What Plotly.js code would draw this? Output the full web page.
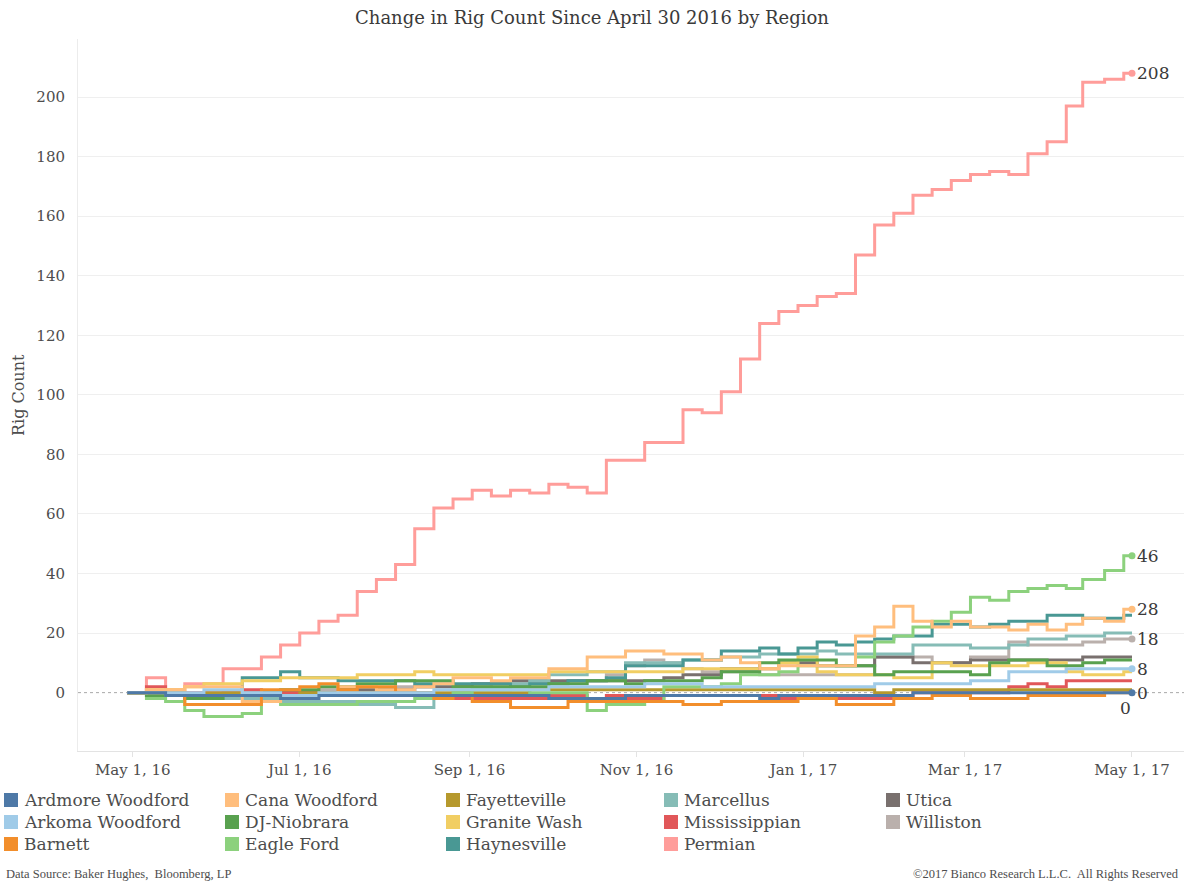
<!DOCTYPE html>
<html>
<head>
<meta charset="utf-8">
<script src="https://cdn.plot.ly/plotly-3.0.1.min.js"></script>
<style>
  html, body { margin: 0; padding: 0; background: #ffffff; }
  #chart { width: 1184px; height: 884px; }
</style>
</head>
<body>
<div id="chart"></div>
<script>
// ---------- DATA ----------
const dates = ['2016-04-29','2016-05-06','2016-05-13','2016-05-20','2016-05-27','2016-06-03','2016-06-10','2016-06-17','2016-06-24',
  '2016-07-01','2016-07-08','2016-07-15','2016-07-22','2016-07-29','2016-08-05','2016-08-12','2016-08-19','2016-08-26',
  '2016-09-02','2016-09-09','2016-09-16','2016-09-23','2016-09-30','2016-10-07','2016-10-14','2016-10-21','2016-10-28',
  '2016-11-04','2016-11-11','2016-11-18','2016-11-25','2016-12-02','2016-12-09','2016-12-16','2016-12-23','2016-12-30',
  '2017-01-06','2017-01-13','2017-01-20','2017-01-27','2017-02-03','2017-02-10','2017-02-17','2017-02-24',
  '2017-03-03','2017-03-10','2017-03-17','2017-03-24','2017-03-31','2017-04-07','2017-04-13','2017-04-21','2017-04-28'];
const asOfDate = '2017-05-01';

const seriesNames = ['Ardmore Woodford','Arkoma Woodford','Barnett','Cana Woodford','DJ-Niobrara','Eagle Ford',
  'Fayetteville','Granite Wash','Haynesville','Marcellus','Mississippian','Permian','Utica','Williston'];
const seriesColors = ['#4E79A7','#A0CBE8','#F28E2B','#FFBE7D','#59A14F','#8CD17D',
  '#B6992D','#F1CE63','#499894','#86BCB6','#E15759','#FF9D9A','#79706E','#BAB0AC'];

const ardmore      = [0,0,-1,-1,-1,-1,-1,-1,-2,-2,-1,-1,-1,-1,-1,-1,-1,-1,-1,-1,-1,-1,-2,-2,-2,-2,-1,-1,-1,-1,-1,-1,-1,-2,-1,-1,-1,-1,-1,-1,-1,0,0,0,0,0,0,0,0,0,0,0,0];
const arkoma       = [0,0,0,0,1,1,0,0,-1,-1,0,0,0,0,0,0,1,1,1,1,1,1,2,2,2,2,2,3,3,3,2,2,2,2,2,2,2,2,2,3,3,3,3,3,4,4,7,7,7,8,8,8,8];
const barnett      = [0,0,-1,-4,-4,-4,-4,1,1,2,3,1,2,2,-1,-1,-2,-1,-3,-3,-5,-5,-5,-3,-3,-3,-3,-3,-3,-4,-4,-3,-3,-3,-3,-2,-2,-4,-4,-4,-2,-2,-1,-1,-2,-2,-2,-1,-1,-1,-1,0,0];
const cana         = [0,1,1,2,2,2,-3,-3,-2,-2,-1,2,2,1,1,2,3,5,5,4,5,5,8,8,12,12,14,14,13,13,11,12,10,8,9,9,9,9,19,22,29,24,22,24,22,22,21,23,21,23,25,24,28];
const djNiobrara   = [0,-1,-1,-2,-2,-1,-1,0,1,1,2,2,3,3,4,4,4,2,2,2,2,2,3,3,4,4,3,4,4,4,5,7,7,10,11,11,11,9,9,6,7,7,7,7,6,10,11,11,9,9,10,11,11];
const eagleFord    = [0,-2,-3,-6,-8,-8,-7,-3,-4,-4,-4,-4,-3,-3,-3,-2,-1,0,1,1,1,0,0,0,-6,-4,-4,-3,2,2,2,3,6,6,7,9,9,9,12,17,19,22,24,27,32,31,34,35,36,35,38,41,46];
const fayetteville = [0,0,0,-1,0,0,-1,-1,-1,0,0,0,0,0,0,0,0,0,0,0,0,1,1,1,1,1,1,1,1,1,1,1,1,1,1,1,1,1,1,0,1,1,1,1,1,1,1,1,1,1,1,1,1];
const graniteWash  = [0,1,1,2,3,3,4,4,5,5,5,5,6,6,6,7,6,6,6,6,6,6,7,7,7,7,7,7,7,8,8,8,8,8,10,12,7,6,6,6,5,5,10,9,9,9,9,10,10,7,6,6,7];
const haynesville  = [0,0,-1,-1,-1,-1,5,5,7,5,5,4,4,4,4,3,3,3,3,3,2,3,3,4,4,5,9,9,9,11,11,14,14,15,13,15,17,16,17,18,19,19,23,23,22,23,24,24,26,26,25,25,26];
const marcellus    = [0,0,-1,-1,-1,-2,-2,-2,-3,-3,-3,-3,-4,-4,-5,-5,-1,0,1,1,3,4,6,6,7,7,10,10,10,11,11,12,12,13,13,13,14,13,13,13,13,16,16,16,15,15,16,18,18,19,19,20,20];
const mississippian= [0,2,0,0,0,0,1,0,0,0,0,0,0,0,0,0,-1,-2,-2,-2,-2,-2,-1,-1,-2,-1,-2,-2,-1,-1,-1,-1,-1,-1,-2,-2,-2,-2,-2,-2,-2,0,0,0,0,0,2,3,2,4,4,4,4];
const permian      = [0,5,1,3,3,8,8,12,16,20,24,26,34,38,43,55,62,65,68,66,68,67,70,69,67,78,78,84,84,95,94,101,112,124,128,130,133,134,147,157,161,167,169,172,174,175,174,181,185,197,205,206,208];
const utica        = [0,0,0,-1,-1,0,0,0,0,0,0,1,1,1,1,2,2,2,3,3,4,4,4,4,4,4,4,4,5,6,6,8,8,8,10,10,9,9,9,12,12,10,10,10,11,11,11,11,11,11,12,12,12];
const williston    = [0,0,-1,-2,-2,-2,-1,0,0,0,1,1,1,1,2,2,2,2,2,3,3,3,3,4,4,6,9,11,10,8,7,7,7,6,6,6,6,6,6,12,12,12,10,10,12,12,17,16,16,16,17,18,18];

const seriesValues = [ardmore, arkoma, barnett, cana, djNiobrara, eagleFord, fayetteville,
  graniteWash, haynesville, marcellus, mississippian, permian, utica, williston];

const labeledSeries = ['Permian','Eagle Ford','Cana Woodford','Williston','Arkoma Woodford','Ardmore Woodford','Barnett'];
const dottedSeries  = ['Permian','Eagle Ford','Cana Woodford','Williston','Arkoma Woodford','Ardmore Woodford'];

const xTickVals = ['2016-05-01','2016-07-01','2016-09-01','2016-11-01','2017-01-01','2017-03-01','2017-05-01'];
const xTickText = ['May 1, 16','Jul 1, 16','Sep 1, 16','Nov 1, 16','Jan 1, 17','Mar 1, 17','May 1, 17'];
const yTickVals = [0,20,40,60,80,100,120,140,160,180,200];

// ---------- LAYOUT HELPERS ----------
const PL = 78, PR = 1184, PT = 39, PB = 751;
const px2x = p => (p - PL) / (PR - PL);
const py2y = p => (PB - p) / (PB - PT);
const SERIF = 'DejaVu Serif, Georgia, serif';
const TXT = '#4d4d4d';

const traces = [];
for (let i = seriesNames.length - 1; i >= 0; i--) {
  const v = seriesValues[i];
  const last = v[v.length - 1];
  traces.push({
    type: 'scatter', mode: 'lines',
    x: dates.concat([asOfDate]), y: v.concat([last]),
    line: {shape: 'hv', width: 3, color: seriesColors[i]},
    hoverinfo: 'skip', showlegend: false, name: seriesNames[i]
  });
}
// end dots
dottedSeries.forEach(name => {
  const i = seriesNames.indexOf(name);
  const v = seriesValues[i];
  traces.push({
    type: 'scatter', mode: 'markers',
    x: [asOfDate], y: [v[v.length - 1]],
    marker: {size: 7, color: seriesColors[i]},
    hoverinfo: 'skip', showlegend: false
  });
});

const annotations = [];
const shapes = [];

// end labels
labeledSeries.forEach(name => {
  const i = seriesNames.indexOf(name);
  const v = seriesValues[i];
  const last = v[v.length - 1];
  const lower = (name === 'Barnett');
  annotations.push({
    x: asOfDate, y: last, xref: 'x', yref: 'y',
    text: String(last), showarrow: false,
    xanchor: lower ? 'center' : 'left', yanchor: 'middle',
    xshift: lower ? -6 : 3, yshift: lower ? -15 : 0,
    font: {family: SERIF, size: 17, color: '#3a3a3a'}
  });
});

// zero reference line (dotted)
shapes.push({type: 'line', xref: 'paper', x0: 0, x1: 1, yref: 'y', y0: 0, y1: 0,
  line: {color: '#a8a8a8', width: 1, dash: 'dot'}, layer: 'below'});

// manual legend (5 columns x 3 rows, column-major)
const legColSquareX = [4, 225, 446, 664, 886];
const legRowCenterY = [800, 822, 844];
seriesNames.forEach((name, i) => {
  const col = Math.floor(i / 3), row = i % 3;
  const sx = legColSquareX[col], cy = legRowCenterY[row];
  shapes.push({type: 'rect', xref: 'paper', yref: 'paper',
    x0: px2x(sx), x1: px2x(sx + 14), y0: py2y(cy + 7), y1: py2y(cy - 7),
    fillcolor: seriesColors[i], line: {width: 0}});
  annotations.push({xref: 'paper', yref: 'paper', x: px2x(sx + 18), y: py2y(cy),
    xanchor: 'left', yanchor: 'middle', showarrow: false, text: name,
    font: {family: SERIF, size: 17, color: TXT}});
});

// y axis title
annotations.push({xref: 'paper', yref: 'paper', x: px2x(18), y: py2y(395),
  text: 'Rig Count', textangle: -90, showarrow: false, xanchor: 'center', yanchor: 'middle',
  font: {family: SERIF, size: 16, color: TXT}});

// footer
annotations.push({xref: 'paper', yref: 'paper', x: px2x(4), y: py2y(874),
  text: 'Data Source: Baker Hughes,  Bloomberg, LP', showarrow: false, xanchor: 'left', yanchor: 'middle',
  font: {family: 'Liberation Serif, serif', size: 12.5, color: TXT}});
annotations.push({xref: 'paper', yref: 'paper', x: px2x(1181), y: py2y(874),
  text: '\u00A92017 Bianco Research L.L.C.  All Rights Reserved', showarrow: false, xanchor: 'right', yanchor: 'middle',
  font: {family: 'Liberation Serif, serif', size: 12.5, color: TXT}});

const layout = {
  width: 1184, height: 884,
  margin: {l: PL, r: 1184 - PR, t: PT, b: 884 - PB, pad: 0},
  paper_bgcolor: '#ffffff', plot_bgcolor: '#ffffff',
  showlegend: false,
  title: {text: 'Change in Rig Count Since April 30 2016 by Region', x: 0.5, xref: 'container',
    xanchor: 'center', y: 1 - 18 / 884, yanchor: 'middle', yref: 'container',
    font: {family: SERIF, size: 18, color: '#3a3a3a'}},
  xaxis: {
    type: 'date', range: ['2016-04-11', '2017-05-20'],
    tickmode: 'array', tickvals: xTickVals, ticktext: xTickText,
    showgrid: false, zeroline: false,
    showline: true, linecolor: '#e3e3e3', linewidth: 1,
    ticks: 'outside', ticklen: 5, tickcolor: '#e3e3e3',
    tickfont: {family: SERIF, size: 15, color: TXT}
  },
  yaxis: {
    range: [-19.6, 219.5],
    tickmode: 'array', tickvals: yTickVals,
    showgrid: false, zeroline: false,
    minor: {tickmode: 'array', tickvals: yTickVals.filter(v => v !== 0), showgrid: true, gridcolor: '#efefef', gridwidth: 1, ticks: ''},
    showline: true, linecolor: '#ececec', linewidth: 1,
    ticks: '', ticklabelstandoff: 9,
    tickfont: {family: SERIF, size: 15, color: TXT}
  },
  annotations: annotations,
  shapes: shapes
};

Plotly.newPlot('chart', traces, layout, {displayModeBar: false, staticPlot: true});
</script>
</body>
</html>
